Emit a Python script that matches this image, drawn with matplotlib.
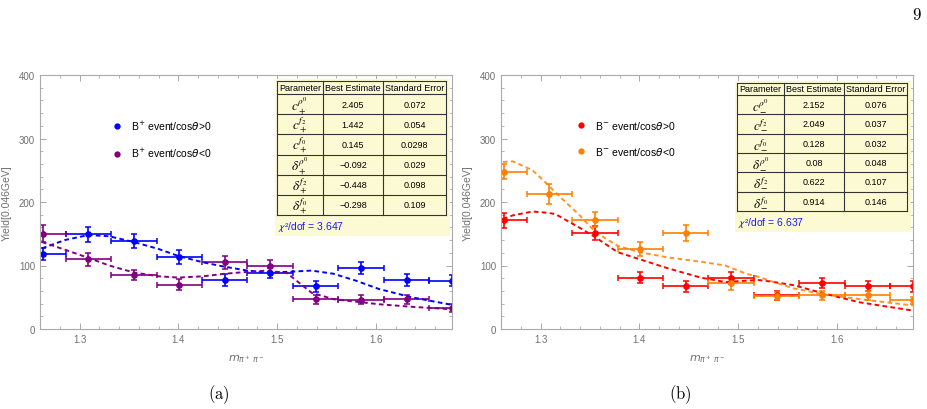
import numpy as np
import matplotlib.pyplot as plt
from matplotlib.lines import Line2D
from matplotlib.patches import Rectangle

plt.rcParams['font.family'] = ['Liberation Sans', 'DejaVu Sans']

# bin centres (bin width 0.046 GeV)
bins = [1.263, 1.309, 1.355, 1.401, 1.447, 1.493, 1.539, 1.585, 1.631, 1.677]
half_bin = 0.023

# B+ data
bp_pos = [118, 149, 138, 114, 77, 88, 67, 96, 77, 76]
bp_pos_err = [10, 12, 11, 11, 9, 8, 8, 9, 9, 9]
bp_neg = [150, 110, 85, 70, 105, 99, 47, 46, 47, 33]
bp_neg_err = [13, 10, 8, 8, 10, 9, 7, 7, 7, 6]

# B- data (no entry in the second bin for cos>0)
bm_pos = [171, np.nan, 151, 81, 67, 80, 53, 72, 68, 67]
bm_pos_err = [12, np.nan, 11, 9, 8, 9, 7, 8, 8, 8]
bm_neg = [248, 213, 172, 126, 151, 72, 52, 53, 53, 45]
bm_neg_err = [12, 16, 12, 11, 13, 10, 7, 7, 7, 6]

# fit curves
fit_x_a = [1.262, 1.285, 1.309, 1.33, 1.355, 1.38, 1.40, 1.425, 1.447, 1.47, 1.49,
           1.51, 1.535, 1.557, 1.58, 1.603, 1.636, 1.677]
fit_bp_pos = [127, 140, 148, 146, 137, 126, 115, 105, 98, 92, 89, 90, 92, 87, 76, 63, 50, 38]
fit_bp_neg = [137, 125, 112, 100, 89, 83, 81, 83, 87, 90, 92, 88, 57, 47, 43, 39, 35, 31]

fit_x_b = [1.262, 1.272, 1.292, 1.307, 1.315, 1.339, 1.356, 1.378, 1.40, 1.428, 1.462,
           1.487, 1.508, 1.521, 1.532, 1.556, 1.589, 1.623, 1.677]
fit_bm_pos = [173, 179, 185, 183, 181, 160, 144, 121, 110, 96, 81, 74, 76, 77, 75, 69, 55, 42, 29]
fit_bm_neg = [263, 264, 250, 228, 215, 180, 152, 131, 121, 113, 106, 100, 87, 82, 76, 64, 54, 47, 37]

par_plus = [r'$c_+^{\rho^0}$', r'$c_+^{f_2}$', r'$c_+^{f_0}$',
            r'$\delta_+^{\rho^0}$', r'$\delta_+^{f_2}$', r'$\delta_+^{f_0}$']
est_plus = ['2.405', '1.442', '0.145', '\u22120.092', '\u22120.448', '\u22120.298']
err_plus = ['0.072', '0.054', '0.0298', '0.029', '0.098', '0.109']
chi_plus = '3.647'

par_minus = [r'$c_-^{\rho^0}$', r'$c_-^{f_2}$', r'$c_-^{f_0}$',
             r'$\delta_-^{\rho^0}$', r'$\delta_-^{f_2}$', r'$\delta_-^{f_0}$']
est_minus = ['2.152', '2.049', '0.128', '0.08', '0.622', '0.914']
err_minus = ['0.076', '0.037', '0.032', '0.048', '0.107', '0.146']
chi_minus = '6.637'

W, H = 928, 410
fig = plt.figure(figsize=(W / 100, H / 100), dpi=100)


def box(x0, y0, x1, y1):
    # pixel box -> figure fraction rect
    return [x0 / W, 1 - y1 / H, (x1 - x0) / W, (y1 - y0) / H]


gray = '#707070'


def panel(x0, series, fits, fit_x, legend_labels, legend_x):
    ax = fig.add_axes(box(x0, 76, x0 + 412, 330))
    for (y, e, c) in series:
        ax.errorbar(bins, y, xerr=half_bin, yerr=e, fmt='o', ms=3.8, color=c,
                    elinewidth=1.2, capsize=2, capthick=1.1)
    for (f, c, a) in fits:
        ax.plot(fit_x, f, color=c, lw=1.4, ls=(0, (2.4, 1.7)), alpha=a)
    ax.set_xlim(1.262, 1.677)
    ax.set_ylim(0, 400)
    ax.set_xticks([1.3, 1.4, 1.5, 1.6])
    ax.set_xticks(np.arange(1.26, 1.68, 0.02), minor=True)
    ax.set_yticks([0, 100, 200, 300, 400])
    ax.set_yticks(np.arange(0, 401, 20), minor=True)
    ax.tick_params(which='both', direction='in', top=True, right=True,
                   colors='#999999', labelcolor=gray, labelsize=7)
    ax.tick_params(which='major', length=4, width=0.6)
    ax.tick_params(which='minor', length=2, width=0.5)
    for s in ax.spines.values():
        s.set_color('#aaaaaa')
        s.set_linewidth(0.8)
    ax.set_xlabel(r'$m_{\pi^+\,\pi^-}$', color=gray, fontsize=8, labelpad=6)
    ax.set_ylabel('Yield[0.046GeV]', color=gray, fontsize=7.5, labelpad=5)
    handles = [Line2D([], [], ls='none', marker='o', ms=3.5, color=c) for (_, _, c) in series]
    fig.legend(handles, legend_labels, loc='upper left',
               bbox_to_anchor=(legend_x / W, 1 - 120 / H), frameon=False,
               borderpad=0, borderaxespad=0, handlelength=1.0,
               handletextpad=0.8, labelspacing=1.35, fontsize=7.5)
    return ax


def table(cols, rows, params, ests, errs, chi):
    x0, y0 = cols[0], rows[0]
    tx = fig.add_axes(box(x0 - 2, y0 - 2, cols[-1] + 4, rows[-1] + 21))
    tx.set_xlim(x0 - 2, cols[-1] + 4)
    tx.set_ylim(rows[-1] + 21, y0 - 2)
    tx.axis('off')
    tx.add_patch(Rectangle((x0 - 2, y0 - 2), cols[-1] + 6 - x0, rows[-1] + 23 - y0,
                           color='#FCFAD2', lw=0))
    for c in cols:
        tx.plot([c, c], [rows[0], rows[-1]], color='#333333', lw=0.8)
    for r in rows:
        tx.plot([cols[0], cols[-1]], [r, r], color='#333333', lw=0.8)
    mids = [(cols[i] + cols[i + 1]) / 2 for i in range(3)]
    hy = (rows[0] + rows[1]) / 2
    for m, t in zip(mids, ['Parameter', 'Best Estimate', 'Standard Error']):
        tx.text(m, hy, t, ha='center', va='center', fontsize=6.5)
    for i in range(6):
        ry = (rows[i + 1] + rows[i + 2]) / 2
        tx.text(mids[0], ry, params[i], ha='center', va='center', fontsize=9.5,
                math_fontfamily='stix')
        tx.text(mids[1], ry, ests[i], ha='center', va='center', fontsize=6.5)
        tx.text(mids[2], ry, errs[i], ha='center', va='center', fontsize=6.5)
    tx.text(cols[0] + 1, rows[-1] + 11, r'$\chi$' + '\u00b2/dof = ' + chi, color='#1a1aff',
            ha='left', va='center', fontsize=7.5, math_fontfamily='stixsans')


panel(40,
      [(bp_pos, bp_pos_err, '#0000ff'), (bp_neg, bp_neg_err, '#800080')],
      [(fit_bp_pos, '#0000ff', 1.0), (fit_bp_neg, '#800080', 1.0)], fit_x_a,
      [r'B$^{+}$ event/cos$\theta$>0', r'B$^{+}$ event/cos$\theta$<0'], 112)
panel(501,
      [(bm_pos, bm_pos_err, '#ff0000'), (bm_neg, bm_neg_err, '#ff8000')],
      [(fit_bm_pos, '#ff0000', 1.0), (fit_bm_neg, '#ff8000', 0.85)], fit_x_b,
      [r'B$^{-}$ event/cos$\theta$>0', r'B$^{-}$ event/cos$\theta$<0'], 576)

table([277, 323, 383, 446], [82] + list(np.linspace(95, 216, 7)),
      par_plus, est_plus, err_plus, chi_plus)
table([737, 784, 844, 907], [84] + list(np.linspace(96, 212, 7)),
      par_minus, est_minus, err_minus, chi_minus)

fig.text(219 / W, 1 - 395 / H, r'$\mathrm{(a)}$', ha='center', va='center',
         fontsize=12, math_fontfamily='cm')
fig.text(680 / W, 1 - 395 / H, r'$\mathrm{(b)}$', ha='center', va='center',
         fontsize=12, math_fontfamily='cm')
fig.text(917 / W, 1 - 15 / H, r'$\mathrm{9}$', ha='center', va='center',
         fontsize=12, math_fontfamily='cm')

fig.savefig('out.png', dpi=100)
